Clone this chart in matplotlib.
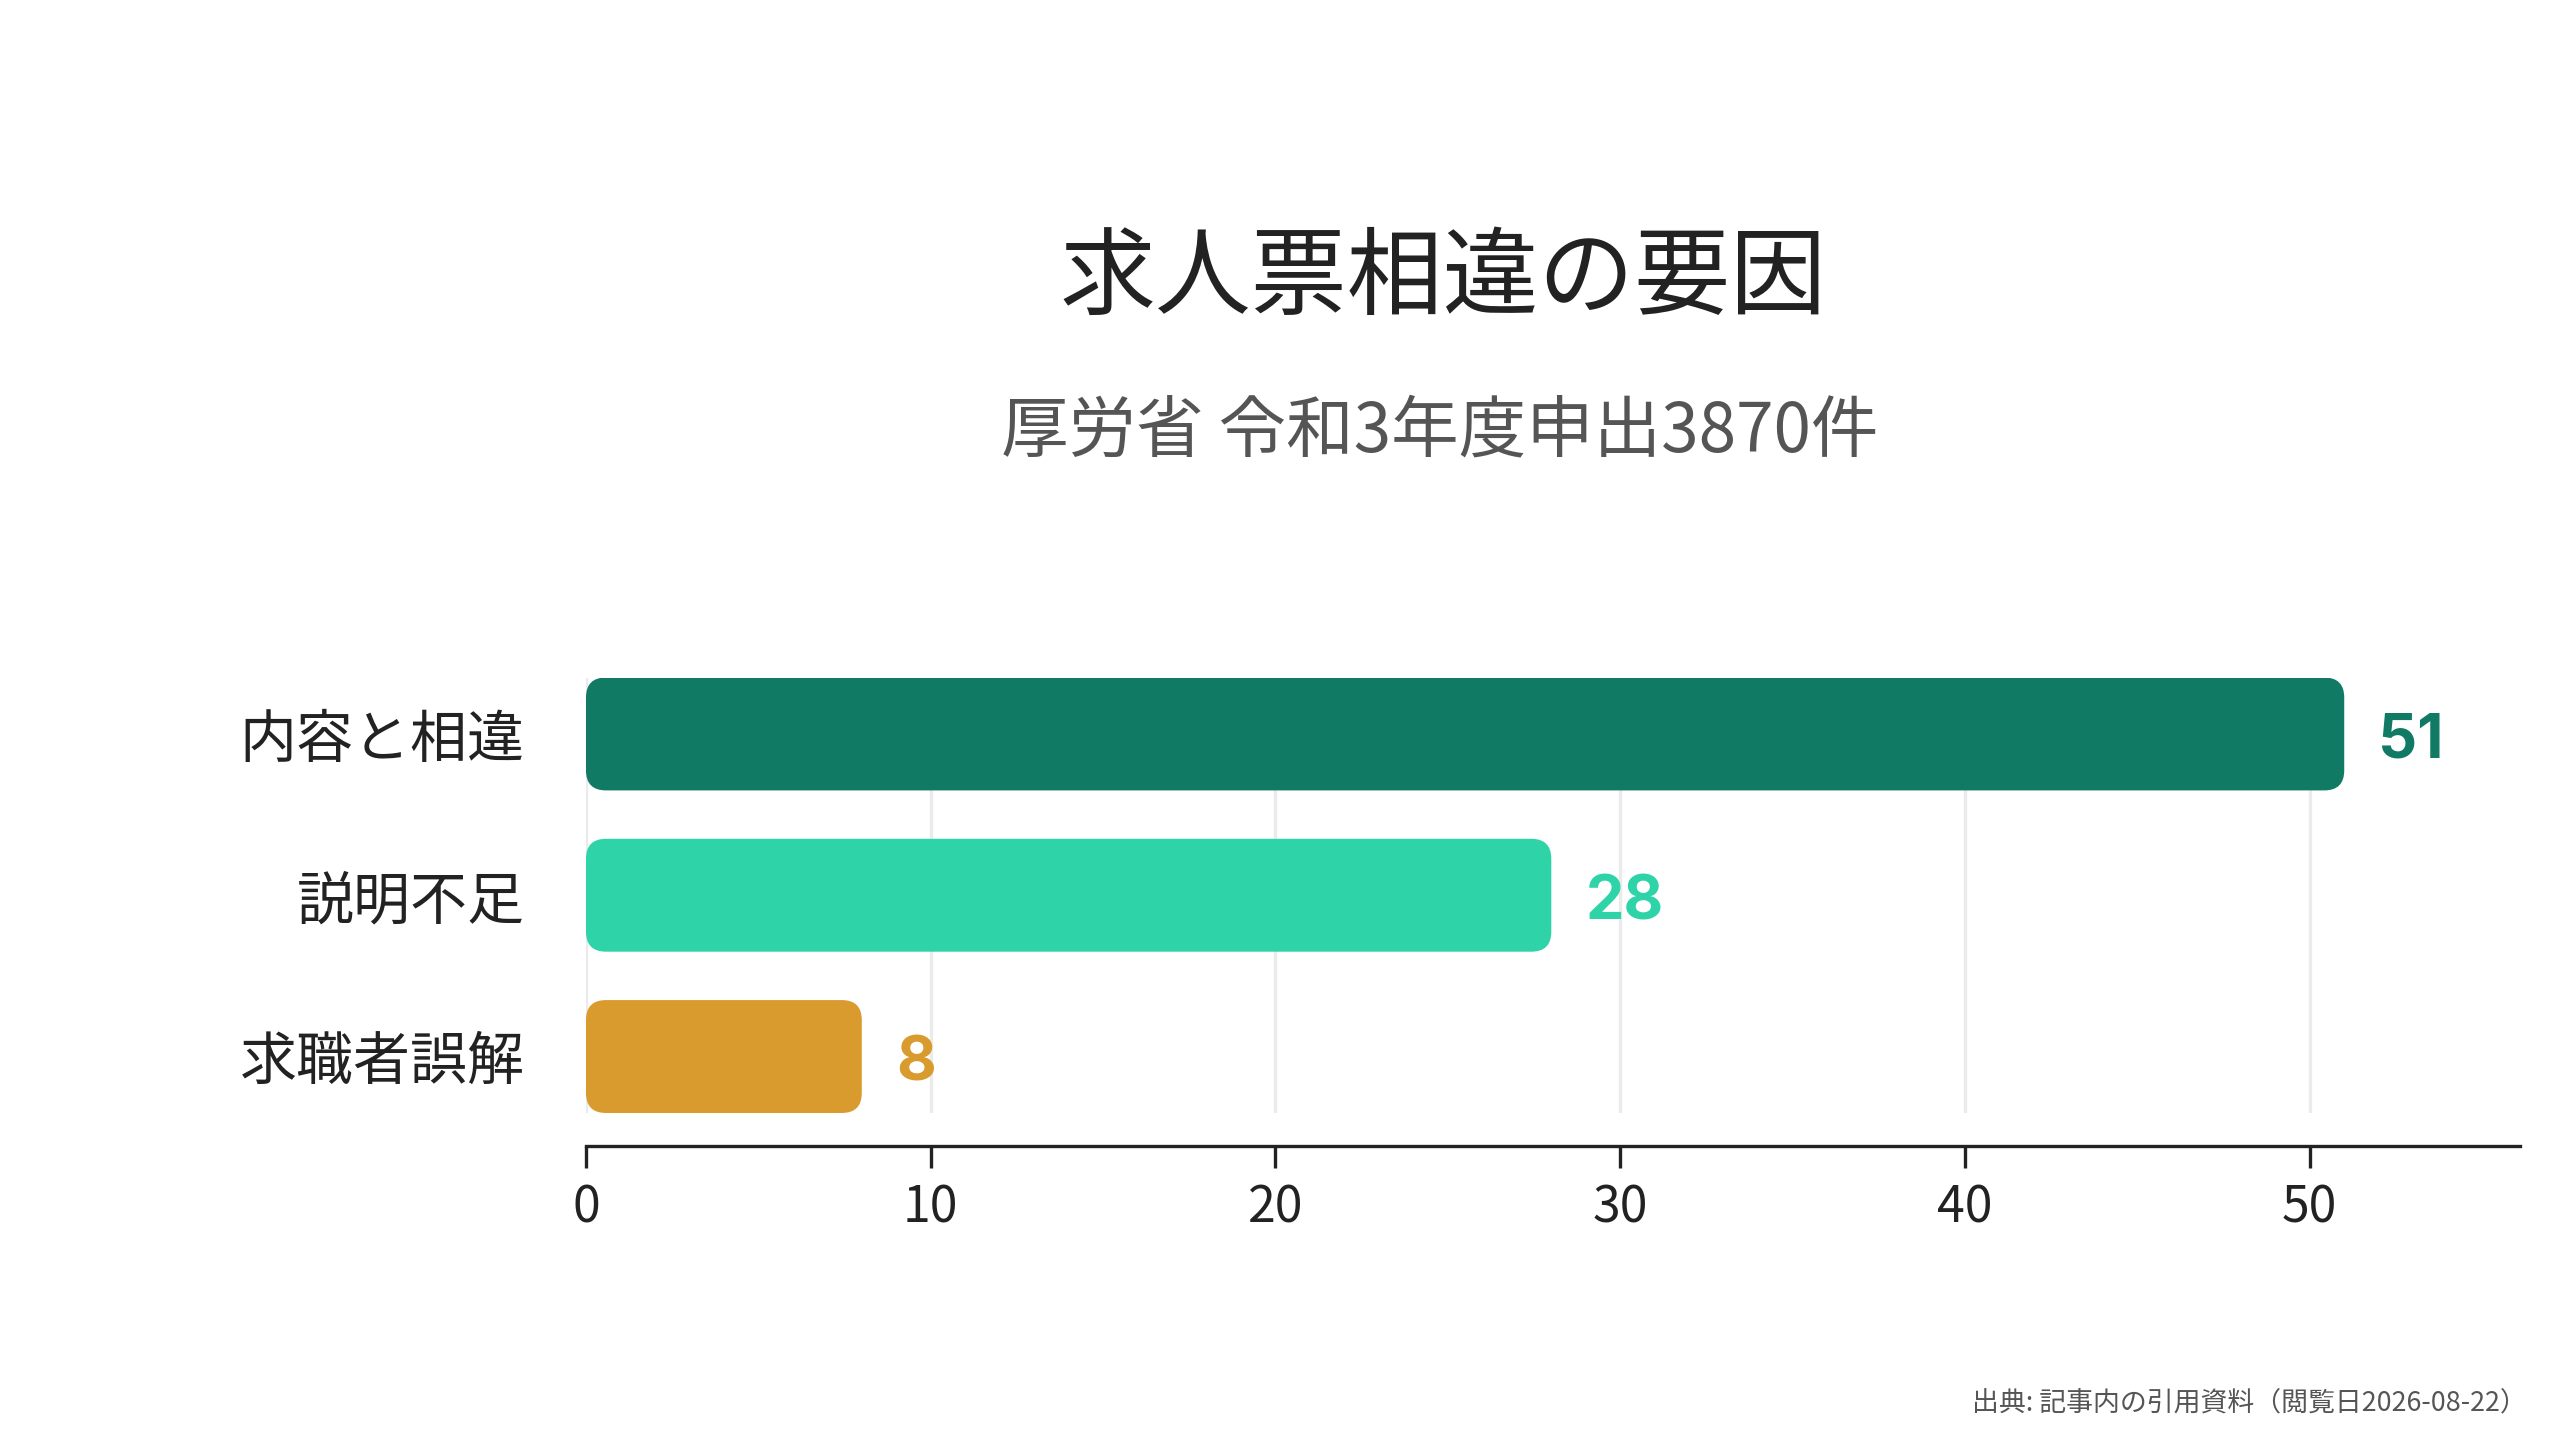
import matplotlib
matplotlib.use("Agg")
import matplotlib.pyplot as plt
from matplotlib.patches import FancyBboxPatch

plt.rcParams['font.family'] = ['Noto Sans CJK JP', 'DejaVu Sans']

categories = ['内容と相違', '説明不足', '求職者誤解']
values = [51, 28, 8]
colors = ['#107A65', '#2ED4A7', '#D99A2E']
xticks = [0, 10, 20, 30, 40, 50]

title = '求人票相違の要因'
subtitle = '厚労省 令和3年度申出3870件'
source = '出典: 記事内の引用資料（閲覧日2026-08-22）'

fig = plt.figure(figsize=(12.8, 7.2), dpi=200)
ax = fig.add_axes([0.2289, 0.2271, 0.9844 - 0.2289, 0.5295 - 0.2271])

bar_h = 0.7
ypos = list(range(len(categories)))
ax.set_xlim(0, max(values) * 1.1)
ax.set_ylim(len(categories) - 1 + bar_h / 2, -bar_h / 2)

# rounded bars: work out aspect so the corners stay circular on screen
fig.canvas.draw()
bb = ax.get_window_extent()
px_per_x = bb.width / (ax.get_xlim()[1] - ax.get_xlim()[0])
px_per_y = bb.height / abs(ax.get_ylim()[1] - ax.get_ylim()[0])
radius_px = 20
r = radius_px / px_per_x
aspect = px_per_x / px_per_y

for y, v, c in zip(ypos, values, colors):
    patch = FancyBboxPatch((0, y - bar_h / 2), v, bar_h,
                           boxstyle=f"round,pad=0,rounding_size={r}",
                           mutation_aspect=aspect, facecolor=c,
                           edgecolor='none', zorder=3)
    ax.add_patch(patch)
    ax.text(v + 34 / px_per_x, y + 8 / px_per_y, str(v), color=c, fontsize=22,
            fontweight='bold', family=['Inter', 'DejaVu Sans'],
            va='center', ha='left', zorder=4)

ax.set_yticks(ypos)
ax.set_yticklabels(categories)
ax.set_xticks(xticks)
ax.set_xticklabels([str(t) for t in xticks])
ax.tick_params(axis='y', length=0, pad=22, labelsize=20.5, labelcolor='#222222')
ax.tick_params(axis='x', length=8, width=1.2, color='#222222', pad=5,
               labelsize=18, labelcolor='#222222')

ax.grid(axis='x', color='#EBEBEB', linewidth=1.2, zorder=0)
ax.set_axisbelow(True)
for s in ['top', 'right', 'left']:
    ax.spines[s].set_visible(False)
ax.spines['bottom'].set_color('#222222')
ax.spines['bottom'].set_linewidth(1.2)
ax.spines['bottom'].set_position(('outward', 12))

fig.text(0.5637, 0.806, title, fontsize=34.5, color='#222222',
         ha='center', va='center')
fig.text(0.5625, 0.70, subtitle, fontsize=24.3, color='#555555',
         ha='center', va='center')
fig.text(0.987, 0.026, source, fontsize=9.7, color='#555555',
         ha='right', va='center')

fig.savefig('out.png', dpi=200, facecolor='white')
